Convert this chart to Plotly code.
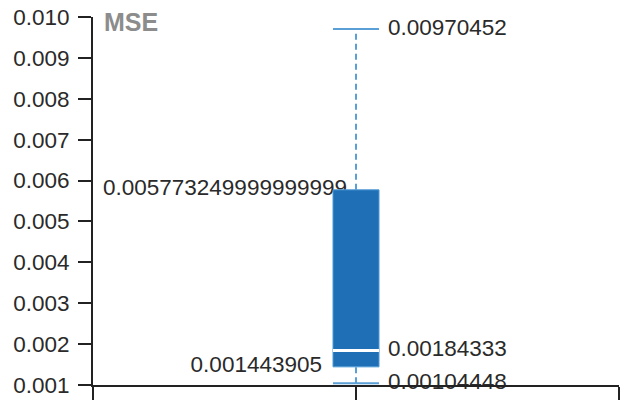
import plotly.graph_objects as go

# ---- data ----
metric = "MSE"
categories = ["MSE"]
lower_whisker = [0.00104448]
q1 = [0.001443905]
median = [0.00184333]
q3 = [0.005773249999999999]
upper_whisker = [0.00970452]
y_ticks = [0.001, 0.002, 0.003, 0.004, 0.005, 0.006, 0.007, 0.008, 0.009, 0.010]
y_tick_labels = ["0.001", "0.002", "0.003", "0.004", "0.005", "0.006", "0.007", "0.008", "0.009", "0.010"]

# ---- style ----
W, H = 624, 400
ML, MR, MT, MB = 93, 5, 17, 15
X_RANGE = [0, 2]
PX = (X_RANGE[1] - X_RANGE[0]) / (W - ML - MR)  # data units per pixel on x
BOX_HALF = 23 * PX
FONT = "Liberation Sans, Arial, sans-serif"
FS = 22.5
BOX_FILL = "#1f6fb6"
BOX_EDGE = "#4f9ad6"
WHISK = "#5a9fd6"
TXT = "#2a2a2a"

fig = go.Figure()

for i, cat in enumerate(categories):
    cx = 1 + i
    left, right = cx - BOX_HALF, cx + BOX_HALF
    # left labels (drawn under box)
    fig.add_trace(go.Scatter(
        x=[cx - 9 * PX], y=[q3[i]], mode="text", text=[repr(q3[i])],
        textposition="middle left", textfont=dict(family=FONT, size=FS, color=TXT),
        cliponaxis=False, hoverinfo="skip"))
    fig.add_trace(go.Scatter(
        x=[left - 11 * PX], y=[q1[i]], mode="text", text=[repr(q1[i])],
        textposition="middle left", textfont=dict(family=FONT, size=FS, color=TXT),
        cliponaxis=False, hoverinfo="skip"))
    # whiskers (dashed)
    fig.add_trace(go.Scatter(
        x=[cx, cx], y=[q3[i], upper_whisker[i]], mode="lines",
        line=dict(color=WHISK, width=2, dash="6px,4px"), hoverinfo="skip"))
    fig.add_trace(go.Scatter(
        x=[cx, cx], y=[lower_whisker[i], q1[i]], mode="lines",
        line=dict(color=WHISK, width=2, dash="6px,4px"), hoverinfo="skip"))
    # box
    fig.add_trace(go.Scatter(
        x=[left, right, right, left, left],
        y=[q1[i], q1[i], q3[i], q3[i], q1[i]],
        mode="lines", fill="toself", fillcolor=BOX_FILL,
        line=dict(color=BOX_EDGE, width=1), hoverinfo="skip"))
    # median
    fig.add_trace(go.Scatter(
        x=[left, right], y=[median[i], median[i]], mode="lines",
        line=dict(color="white", width=3), hoverinfo="skip"))
    # caps
    fig.add_trace(go.Scatter(
        x=[left, right], y=[upper_whisker[i], upper_whisker[i]], mode="lines",
        line=dict(color=WHISK, width=2), hoverinfo="skip", cliponaxis=False))
    fig.add_trace(go.Scatter(
        x=[left, right], y=[lower_whisker[i], lower_whisker[i]], mode="lines",
        line=dict(color=WHISK, width=2), hoverinfo="skip", cliponaxis=False))
    # right labels
    fig.add_trace(go.Scatter(
        x=[right + 9 * PX] * 3, y=[upper_whisker[i], median[i], lower_whisker[i]],
        mode="text", text=[repr(upper_whisker[i]), repr(median[i]), repr(lower_whisker[i])],
        textposition="middle right", textfont=dict(family=FONT, size=FS, color=TXT),
        cliponaxis=False, hoverinfo="skip"))

fig.add_annotation(
    x=(102 - ML) / (W - ML - MR), y=1 - (22 - MT) / (H - MT - MB),
    xref="paper", yref="paper", xanchor="left", yanchor="middle",
    text="<b>" + metric + "</b>", showarrow=False,
    font=dict(family=FONT, size=25, color="#8c8c8c"))

fig.update_layout(
    width=W, height=H, margin=dict(l=ML, r=MR, t=MT, b=MB, autoexpand=False),
    paper_bgcolor="white", plot_bgcolor="white", showlegend=False,
    xaxis=dict(range=X_RANGE, tickvals=[0, 1, 2], ticktext=["", "", ""],
               ticks="outside", ticklen=14, tickwidth=2, tickcolor="#222",
               showline=True, linecolor="#222", linewidth=2, automargin=False,
               showgrid=False, zeroline=False, fixedrange=True),
    yaxis=dict(range=[y_ticks[0], y_ticks[-1]], tickvals=y_ticks, ticktext=y_tick_labels,
               ticks="outside", ticklen=13, tickwidth=2, tickcolor="#222",
               showline=True, linecolor="#222", linewidth=2, automargin=False,
               showgrid=False, zeroline=False, ticklabelstandoff=4,
               tickfont=dict(family=FONT, size=FS, color=TXT), fixedrange=True),
)

fig.write_html("out.html", config={"displayModeBar": False},
               post_script="document.body.style.margin='0';document.body.style.overflow='hidden';")
